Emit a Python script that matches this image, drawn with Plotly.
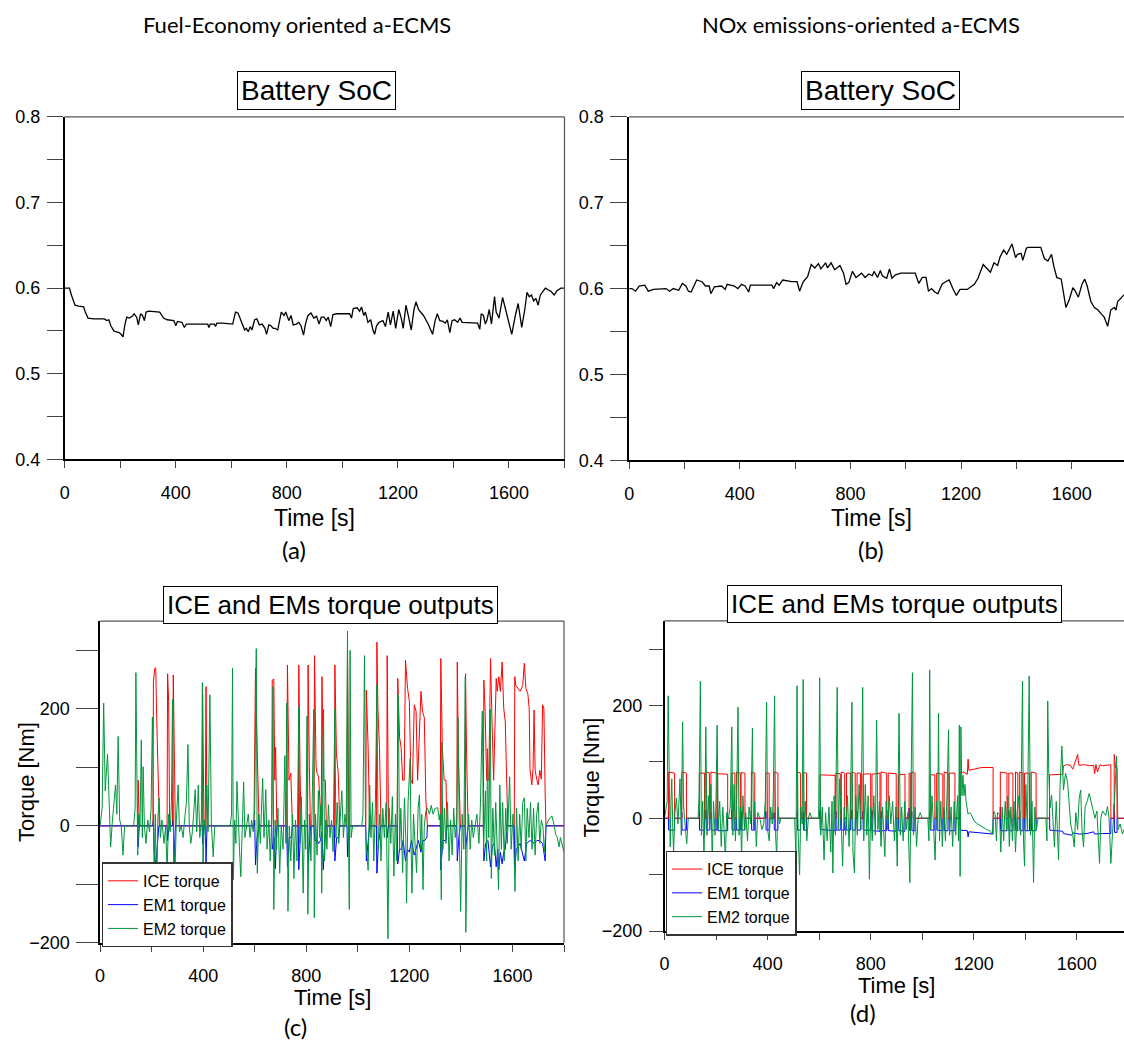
import plotly.graph_objects as go

# ---------------- data ----------------
# Battery SoC, fuel-economy oriented a-ECMS
soc_fe_t = [0, 17, 24, 37, 50, 68, 74, 84, 104, 143, 151, 159, 166, 177, 183, 196, 203, 210, 216, 223,
            232, 243, 250, 259, 265, 273, 280, 287, 293, 303, 342, 349, 356, 369, 393, 400, 406, 422, 431, 438,
            515, 519, 524, 539, 543, 548, 568, 605, 609, 615, 624, 632, 641, 648, 654, 661, 668, 674, 684, 692,
            701, 711, 721, 727, 735, 743, 751, 758, 767, 774, 780, 790, 796, 807, 815, 823, 834, 843, 851, 860,
            867, 876, 887, 897, 907, 916, 924, 934, 942, 949, 958, 966, 980, 1026, 1033, 1039, 1053, 1062, 1069, 1077,
            1083, 1092, 1102, 1110, 1116, 1123, 1132, 1146, 1155, 1165, 1173, 1183, 1192, 1203, 1212, 1219, 1229, 1238, 1248, 1258,
            1265, 1274, 1292, 1309, 1325, 1334, 1342, 1351, 1362, 1371, 1378, 1387, 1395, 1404, 1415, 1424, 1431, 1487, 1495, 1500,
            1508, 1515, 1521, 1529, 1537, 1548, 1554, 1564, 1577, 1588, 1597, 1610, 1623, 1633, 1641, 1646, 1657, 1665, 1673, 1681,
            1689, 1697, 1705, 1713, 1720, 1731, 1741, 1752, 1763, 1773, 1787, 1800]
soc_fe = [0.600, 0.600, 0.592, 0.580, 0.579, 0.578, 0.572, 0.565, 0.564, 0.564, 0.562, 0.563, 0.556, 0.550, 0.549, 0.548, 0.546, 0.543, 0.556, 0.566,
          0.565, 0.567, 0.570, 0.566, 0.557, 0.570, 0.568, 0.562, 0.572, 0.573, 0.572, 0.568, 0.565, 0.563, 0.562, 0.556, 0.561, 0.560, 0.554, 0.558,
          0.558, 0.554, 0.558, 0.558, 0.555, 0.559, 0.559, 0.558, 0.565, 0.572, 0.571, 0.564, 0.556, 0.551, 0.553, 0.549, 0.555, 0.551, 0.563, 0.564,
          0.557, 0.558, 0.553, 0.546, 0.557, 0.556, 0.553, 0.553, 0.551, 0.565, 0.572, 0.568, 0.572, 0.562, 0.568, 0.557, 0.558, 0.560, 0.556, 0.545,
          0.558, 0.568, 0.571, 0.565, 0.567, 0.558, 0.566, 0.566, 0.562, 0.566, 0.555, 0.569, 0.570, 0.570, 0.565, 0.576, 0.577, 0.573, 0.578, 0.568,
          0.572, 0.560, 0.563, 0.551, 0.546, 0.556, 0.560, 0.562, 0.555, 0.572, 0.557, 0.573, 0.553, 0.575, 0.565, 0.553, 0.580, 0.567, 0.551, 0.575,
          0.584, 0.575, 0.568, 0.558, 0.546, 0.562, 0.570, 0.562, 0.561, 0.559, 0.563, 0.548, 0.562, 0.563, 0.560, 0.565, 0.560, 0.559, 0.552, 0.570,
          0.568, 0.558, 0.563, 0.575, 0.558, 0.590, 0.572, 0.565, 0.589, 0.575, 0.562, 0.546, 0.568, 0.582, 0.565, 0.554, 0.575, 0.595, 0.590, 0.592,
          0.585, 0.588, 0.580, 0.592, 0.595, 0.600, 0.598, 0.596, 0.592, 0.597, 0.600, 0.600]

# Battery SoC, NOx emissions oriented a-ECMS
soc_nox_t = [0, 10, 23, 36, 56, 69, 88, 133, 146, 159, 179, 192, 205, 214, 224, 244, 263, 276, 289, 295,
             308, 334, 347, 354, 380, 393, 406, 419, 432, 438, 516, 522, 533, 542, 555, 587, 607, 616, 629, 645,
             658, 671, 684, 693, 710, 717, 730, 743, 762, 775, 784, 794, 807, 820, 840, 853, 866, 879, 885, 898,
             908, 915, 931, 941, 950, 963, 982, 1034, 1047, 1060, 1073, 1082, 1093, 1105, 1116, 1131, 1144, 1157, 1170, 1183,
             1196, 1222, 1248, 1261, 1280, 1293, 1306, 1319, 1332, 1341, 1354, 1365, 1384, 1397, 1404, 1417, 1423, 1436, 1442, 1488,
             1501, 1514, 1527, 1536, 1546, 1562, 1579, 1591, 1604, 1613, 1624, 1637, 1647, 1656, 1669, 1682, 1695, 1708, 1717, 1730,
             1741, 1754, 1760, 1766, 1779, 1790]
soc_nox = [0.600, 0.600, 0.597, 0.603, 0.604, 0.597, 0.599, 0.600, 0.597, 0.600, 0.598, 0.606, 0.603, 0.597, 0.596, 0.610, 0.608, 0.603, 0.603, 0.594,
           0.602, 0.603, 0.599, 0.605, 0.603, 0.600, 0.605, 0.603, 0.596, 0.604, 0.604, 0.600, 0.607, 0.604, 0.610, 0.608, 0.608, 0.597, 0.608, 0.614,
           0.628, 0.624, 0.629, 0.623, 0.630, 0.624, 0.630, 0.622, 0.627, 0.618, 0.605, 0.607, 0.620, 0.613, 0.618, 0.613, 0.617, 0.615, 0.620, 0.613,
           0.621, 0.615, 0.612, 0.623, 0.612, 0.616, 0.618, 0.618, 0.606, 0.613, 0.613, 0.597, 0.600, 0.596, 0.594, 0.605, 0.608, 0.610, 0.600, 0.592,
           0.599, 0.599, 0.605, 0.612, 0.628, 0.624, 0.619, 0.630, 0.627, 0.637, 0.645, 0.640, 0.652, 0.636, 0.640, 0.641, 0.633, 0.647, 0.648, 0.648,
           0.635, 0.632, 0.640, 0.625, 0.613, 0.611, 0.578, 0.587, 0.601, 0.597, 0.590, 0.605, 0.611, 0.603, 0.585, 0.578, 0.575, 0.570, 0.567, 0.556,
           0.575, 0.578, 0.575, 0.585, 0.590, 0.593]

# Torque outputs, fuel-economy oriented a-ECMS
ice_fe_t = [0, 145, 148, 152, 205, 207, 212, 216, 220, 224, 228, 230, 260, 262, 266, 270, 281, 284, 288, 292,
            396, 398, 403, 408, 411, 415, 597, 603, 610, 617, 666, 668, 674, 678, 681, 686, 724, 727, 733, 740,
            744, 746, 770, 771, 776, 780, 805, 807, 812, 816, 830, 832, 838, 842, 848, 858, 861, 866, 870, 874,
            878, 909, 911, 917, 924, 930, 958, 960, 965, 1031, 1033, 1040, 1046, 1072, 1074, 1078, 1084, 1090, 1112, 1114,
            1119, 1153, 1155, 1162, 1168, 1174, 1180, 1185, 1193, 1200, 1206, 1212, 1219, 1226, 1232, 1245, 1251, 1258, 1264, 1270,
            1320, 1322, 1328, 1335, 1342, 1346, 1384, 1386, 1390, 1398, 1416, 1418, 1422, 1428, 1487, 1489, 1494, 1500, 1508, 1515,
            1520, 1527, 1537, 1541, 1547, 1553, 1560, 1566, 1572, 1578, 1582, 1607, 1609, 1613, 1620, 1630, 1640, 1646, 1652, 1660,
            1665, 1668, 1675, 1680, 1684, 1688, 1694, 1700, 1706, 1712, 1717, 1722, 1727, 1730, 1800]
ice_fe = [0, 0, 78, 0, 0, 246, 269, 270, 179, 78, 40, 0, 0, 260, 213, 0, 0, 258, 123, 0,
          0, 224, 0, 0, 238, 0, 0, 269, 123, 0, 0, 249, 251, 78, 134, 0, 0, 275, 78, 90,
          34, 0, 0, 275, 90, 0, 0, 275, 101, 0, 0, 291, 101, 90, 84, 0, 255, 78, 78, 78,
          0, 0, 275, 123, 90, 0, 0, 300, 0, 0, 232, 134, 0, 0, 314, 200, 134, 0, 0, 291,
          0, 0, 252, 151, 134, 78, 78, 283, 235, 213, 78, 72, 207, 196, 78, 230, 196, 185, 45, 0,
          0, 286, 134, 78, 78, 0, 0, 280, 123, 0, 0, 260, 123, 0, 0, 249, 196, 78, 78, 286,
          190, 78, 252, 230, 255, 230, 280, 202, 179, 60, 0, 0, 255, 240, 235, 230, 240, 278, 235, 225,
          200, 98, 70, 98, 198, 95, 80, 70, 95, 80, 207, 200, 53, 0, 0]

em1_fe_t = [0, 145, 146, 148, 152, 205, 207, 210, 216, 222, 228, 260, 262, 268, 282, 284, 287, 292, 396, 398,
            402, 409, 411, 415, 597, 600, 603, 609, 617, 666, 668, 676, 680, 686, 724, 727, 734, 742, 746, 769,
            771, 777, 781, 805, 807, 813, 817, 830, 833, 842, 848, 855, 861, 866, 872, 878, 909, 911, 918, 925,
            930, 958, 960, 965, 1031, 1033, 1040, 1046, 1072, 1074, 1080, 1090, 1112, 1114, 1119, 1153, 1155, 1162, 1170, 1176,
            1185, 1193, 1200, 1208, 1219, 1226, 1235, 1245, 1252, 1260, 1268, 1270, 1320, 1322, 1330, 1342, 1346, 1384, 1386, 1392,
            1398, 1416, 1418, 1428, 1487, 1489, 1496, 1505, 1515, 1522, 1530, 1537, 1543, 1547, 1553, 1560, 1566, 1572, 1580, 1607,
            1609, 1615, 1630, 1646, 1655, 1668, 1684, 1695, 1705, 1717, 1727, 1730, 1800]
em1_fe = [0, 0, 10, -36, 0, 0, 10, -45, -70, -30, 0, 0, -25, 0, 0, 10, -67, 0, 0, -30,
          0, 0, -62, 0, 0, 10, -67, -20, 0, 0, -40, -20, -73, 0, 0, -70, -20, -20, 0, 0,
          -75, -20, 0, 0, -64, -25, 0, 0, -25, -25, -30, -25, -10, -75, -25, 0, 0, -60, -20, -20,
          0, 0, -53, 0, 0, -60, -20, 0, 0, -81, -30, 0, 0, -20, 0, 0, -65, -40, -40, -25,
          -60, -40, -45, -25, -50, -40, -25, -45, -25, -25, -20, 0, 0, -75, -25, -25, 0, 0, -60, -20,
          0, 0, -40, 0, 0, -60, -30, -25, -70, -35, -30, -70, -40, -75, -45, -65, -45, -40, 0, 0,
          -70, -40, -30, -60, -30, -25, -30, -25, -25, -30, -60, 0, 0]

em2_fe_t = [0, 8, 14, 20, 29, 35, 41, 48, 55, 60, 65, 70, 76, 82, 89, 95, 130, 136, 139, 143,
            146, 150, 155, 160, 164, 167, 172, 178, 185, 192, 198, 203, 207, 210, 214, 220, 224, 229, 234, 240,
            248, 255, 260, 266, 272, 277, 281, 285, 291, 296, 303, 308, 315, 322, 330, 335, 341, 346, 352, 358,
            363, 369, 375, 381, 387, 393, 397, 399, 404, 409, 414, 419, 426, 432, 439, 445, 505, 510, 514, 517,
            522, 527, 531, 536, 541, 546, 551, 557, 562, 568, 575, 582, 588, 594, 600, 606, 610, 616, 622, 627,
            631, 636, 643, 648, 655, 660, 667, 671, 674, 679, 684, 690, 697, 703, 710, 717, 721, 724, 729, 734,
            740, 747, 752, 758, 764, 771, 775, 781, 788, 793, 798, 803, 806, 812, 818, 823, 829, 831, 836, 842,
            847, 852, 857, 860, 864, 867, 871, 876, 880, 886, 892, 898, 904, 911, 915, 920, 926, 932, 938, 944,
            950, 955, 960, 963, 967, 970, 974, 980, 1015, 1020, 1026, 1030, 1035, 1040, 1046, 1051, 1057, 1062, 1068, 1074,
            1079, 1085, 1090, 1097, 1103, 1110, 1117, 1122, 1128, 1134, 1140, 1146, 1151, 1157, 1162, 1167, 1174, 1181, 1186, 1189,
            1195, 1203, 1207, 1210, 1216, 1222, 1228, 1234, 1239, 1244, 1248, 1253, 1258, 1264, 1270, 1278, 1285, 1292, 1300, 1310,
            1316, 1320, 1324, 1326, 1330, 1336, 1342, 1348, 1354, 1360, 1366, 1372, 1378, 1384, 1389, 1394, 1399, 1405, 1411, 1417,
            1419, 1424, 1430, 1436, 1442, 1448, 1455, 1462, 1470, 1476, 1483, 1488, 1495, 1500, 1503, 1508, 1514, 1518, 1524, 1530,
            1535, 1540, 1546, 1551, 1557, 1562, 1568, 1574, 1580, 1589, 1595, 1602, 1610, 1616, 1622, 1628, 1634, 1640, 1646, 1652,
            1657, 1664, 1670, 1676, 1682, 1688, 1694, 1700, 1706, 1712, 1718, 1724, 1730, 1740, 1748, 1753, 1760, 1768, 1774, 1781,
            1786, 1792, 1800]
em2_fe = [0, 30, 210, 60, 123, 20, -36, 10, 40, 70, 20, 153, 10, 0, -50, 0, 0, 30, 262, 10,
          -50, 20, 0, 147, -20, 101, 0, -30, 10, -10, 30, 186, -20, -98, 20, -118, 10, 48, -20, 10,
          -30, 0, -81, 20, -10, 40, 216, -20, -76, 10, 70, -10, 0, -20, 20, 40, 139, 0, -30, -10,
          20, 62, -10, 70, -20, 10, 245, -87, 10, -20, 70, -10, 224, 0, -53, 0, 0, 20, 270, -92,
          10, -30, 76, 0, -40, -87, 10, 75, -20, 0, 20, -20, 10, -10, 30, 303, -81, 20, -30, 40,
          81, -20, 62, -40, 10, -60, 20, 238, -143, 10, -40, 30, -81, 0, -40, 120, -30, 210, -146, 0,
          -60, 20, -90, 10, -60, 204, -30, 50, -115, 10, -40, 188, -151, 20, -60, 40, 199, -157, 20, -50,
          60, -20, 36, -115, 20, 199, -60, 10, -40, 36, -20, 10, -44, 200, -20, 40, -30, 10, 60, -20,
          20, 0, 333, 20, -143, 300, -20, 0, 0, 20, 291, -10, -50, -76, 70, -20, 40, -60, 30, 241,
          -40, 20, -60, 30, -20, 40, -193, 30, -30, 50, -86, 20, -60, 224, -40, 30, -80, 48, -20, -132,
          40, 115, -40, -115, 20, -40, -80, 30, 53, -40, 20, -109, 0, 25, 30, 20, 35, 20, 30, 31,
          10, 20, -126, 143, -40, 30, -30, 40, -60, 10, -50, 30, -20, 10, 185, -20, -146, 20, -40, 255,
          -182, -30, 20, -40, 10, -20, 0, 20, -30, 40, 196, -40, 60, -60, 132, -20, 199, -90, 30, -50,
          40, -40, -109, 70, -40, 40, -60, 30, -30, 84, -40, 20, -112, 30, -60, 20, -40, 40, 48, -60,
          30, -20, 40, -40, 30, -50, 20, 40, -30, 10, 0, -45, 0, 10, 15, 17, 5, -15, -20, -36,
          -20, -30, -45]

# Torque outputs, NOx emissions oriented a-ECMS
ice_nox_t = [0, 15, 15, 39, 39, 67, 67, 85, 85, 135, 135, 155, 155, 161, 161, 174, 174, 180, 180, 203,
             203, 206, 206, 245, 245, 261, 261, 273, 273, 279, 279, 294, 294, 297, 297, 312, 312, 337, 337, 350,
             350, 393, 393, 406, 406, 425, 425, 440, 440, 515, 515, 528, 528, 538, 538, 551, 551, 603, 603, 662,
             662, 665, 665, 682, 682, 686, 686, 699, 699, 706, 706, 721, 721, 727, 727, 740, 740, 747, 747, 760,
             760, 770, 770, 800, 800, 805, 805, 836, 836, 840, 840, 862, 862, 868, 868, 899, 899, 908, 908, 933,
             933, 949, 949, 955, 955, 959, 959, 972, 972, 1030, 1030, 1049, 1049, 1056, 1056, 1080, 1080, 1085, 1085, 1100,
             1100, 1105, 1105, 1127, 1127, 1146, 1146, 1160, 1175, 1178, 1181, 1190, 1210, 1230, 1260, 1275, 1275, 1303, 1303, 1329,
             1329, 1336, 1336, 1352, 1352, 1362, 1362, 1371, 1371, 1378, 1378, 1391, 1391, 1397, 1397, 1416, 1416, 1423, 1423, 1442,
             1442, 1494, 1494, 1545, 1548, 1560, 1575, 1584, 1590, 1603, 1608, 1630, 1648, 1665, 1669, 1674, 1680, 1690, 1700, 1710,
             1722, 1732, 1732, 1745, 1745, 1750, 1756, 1756, 1800]
ice_nox = [0, 0, 82, 80, 0, 0, 82, 80, 0, 0, 80, 80, 0, 0, 82, 80, 0, 0, 82, 80,
           0, 0, 79, 78, 0, 0, 80, 80, 0, 0, 82, 80, 0, 0, 81, 80, 0, 0, 82, 80,
           0, 0, 80, 80, 0, 0, 82, 80, 0, 0, 82, 80, 0, 0, 81, 80, 0, 0, 77, 76,
           0, 0, 80, 79, 0, 0, 82, 80, 0, 0, 80, 80, 0, 0, 82, 80, 0, 0, 80, 80,
           0, 0, 78, 79, 0, 0, 78, 80, 0, 0, 82, 80, 0, 0, 80, 79, 0, 0, 77, 78,
           0, 0, 80, 80, 0, 0, 82, 80, 0, 0, 77, 77, 0, 0, 80, 78, 0, 0, 82, 80,
           0, 0, 80, 80, 0, 0, 80, 82, 78, 105, 85, 86, 88, 90, 90, 90, 0, 0, 82, 80,
           0, 0, 80, 80, 0, 0, 82, 80, 0, 0, 82, 80, 0, 0, 80, 80, 0, 0, 82, 80,
           0, 0, 77, 78, 93, 95, 94, 87, 95, 113, 94, 95, 93, 94, 79, 95, 82, 95, 93, 94,
           95, 95, 0, 0, 113, 90, 90, 0, 0]

em1_nox_t = [0, 15, 15, 16, 39, 39, 67, 67, 68, 85, 85, 135, 135, 136, 155, 155, 161, 161, 162, 174,
             174, 180, 180, 181, 203, 203, 206, 206, 207, 245, 245, 261, 261, 262, 273, 273, 279, 279, 280, 294,
             294, 297, 297, 298, 312, 312, 337, 337, 338, 350, 350, 393, 393, 394, 406, 406, 425, 425, 426, 440,
             440, 515, 515, 516, 528, 528, 538, 538, 539, 551, 551, 603, 603, 604, 662, 662, 665, 665, 666, 682,
             682, 686, 686, 687, 699, 699, 706, 706, 707, 721, 721, 727, 727, 728, 740, 740, 747, 747, 748, 760,
             760, 770, 770, 771, 800, 800, 805, 805, 806, 836, 836, 840, 840, 841, 862, 862, 868, 868, 869, 899,
             899, 908, 908, 909, 933, 933, 949, 949, 950, 955, 955, 959, 959, 960, 972, 972, 1030, 1030, 1031, 1049,
             1049, 1056, 1056, 1057, 1080, 1080, 1085, 1085, 1086, 1100, 1100, 1105, 1105, 1106, 1127, 1127, 1146, 1146, 1147, 1175,
             1178, 1181, 1200, 1230, 1260, 1275, 1275, 1303, 1303, 1304, 1329, 1329, 1336, 1336, 1337, 1352, 1352, 1362, 1362, 1363,
             1371, 1371, 1378, 1378, 1379, 1391, 1391, 1397, 1397, 1398, 1416, 1416, 1423, 1423, 1424, 1442, 1442, 1494, 1494, 1495,
             1545, 1548, 1580, 1584, 1610, 1640, 1665, 1669, 1700, 1732, 1732, 1745, 1745, 1746, 1756, 1756, 1800]
em1_nox = [0, 0, 12, -21, -21, 0, 0, 10, -21, -21, 0, 0, 12, -21, -21, 0, 0, 15, -21, -21,
           0, 0, 10, -21, -21, 0, 0, 12, -22, -22, 0, 0, 15, -21, -21, 0, 0, 35, -21, -21,
           0, 0, 12, -21, -21, 0, 0, 12, -21, -21, 0, 0, 12, -21, -21, 0, 0, 10, -21, -21,
           0, 0, 12, -21, -21, 0, 0, 10, -21, -21, 0, 0, 14, -20, -22, 0, 0, 12, -21, -21,
           0, 0, 14, -21, -21, 0, 0, 12, -21, -21, 0, 0, 14, -21, -21, 0, 0, 12, -21, -21,
           0, 0, 12, -21, -21, 0, 0, 14, -22, -23, 0, 0, 12, -22, -22, 0, 0, 14, -22, -23,
           0, 0, 12, -22, -23, 0, 0, 18, -22, -22, 0, 0, 12, -22, -22, 0, 0, 12, -21, -21,
           0, 0, 20, -21, -22, 0, 0, 14, -22, -22, 0, 0, 14, -22, -22, 0, 0, 12, -21, -22,
           -33, -24, -25, -26, -27, -28, 0, 0, 20, -22, -22, 0, 0, 14, -22, -22, 0, 0, 15, -22,
           -22, 0, 0, 14, -22, -22, 0, 0, 12, -22, -22, 0, 0, 12, -22, -22, 0, 0, 12, -21,
           -23, -27, -30, -26, -28, -27, -24, -28, -27, -27, 0, 0, 25, -25, -25, 0, 0]

em2_nox_t = [0, 10, 14, 18, 22, 25, 28, 32, 35, 40, 46, 52, 57, 60, 65, 70, 74, 80, 86, 92,
             130, 134, 139, 143, 148, 153, 157, 160, 165, 170, 175, 180, 185, 190, 196, 200, 204, 208, 214, 220,
             226, 231, 236, 241, 248, 255, 261, 265, 270, 275, 280, 285, 289, 294, 299, 304, 310, 315, 322, 328,
             335, 341, 345, 350, 356, 362, 370, 378, 385, 391, 396, 400, 406, 412, 418, 422, 427, 431, 435, 440,
             446, 452, 505, 510, 514, 518, 524, 529, 534, 538, 542, 546, 552, 558, 564, 572, 598, 602, 606, 612,
             619, 625, 631, 638, 645, 650, 653, 658, 663, 670, 674, 680, 686, 691, 697, 703, 710, 716, 722, 727,
             731, 737, 742, 748, 755, 762, 769, 773, 779, 785, 790, 795, 800, 806, 812, 818, 823, 828, 834, 840,
             846, 855, 860, 866, 872, 878, 885, 892, 898, 903, 906, 910, 915, 920, 926, 932, 938, 944, 952, 957,
             962, 966, 972, 978, 984, 992, 1000, 1022, 1026, 1029, 1033, 1038, 1044, 1050, 1055, 1060, 1063, 1067, 1072, 1078,
             1084, 1090, 1096, 1102, 1106, 1112, 1118, 1124, 1130, 1137, 1141, 1144, 1147, 1150, 1154, 1158, 1162, 1166, 1170, 1178,
             1184, 1190, 1196, 1205, 1215, 1225, 1238, 1250, 1262, 1272, 1277, 1283, 1288, 1292, 1300, 1305, 1310, 1316, 1322, 1327,
             1332, 1338, 1344, 1350, 1356, 1362, 1368, 1375, 1382, 1389, 1393, 1397, 1402, 1408, 1415, 1420, 1426, 1432, 1437, 1443,
             1450, 1480, 1484, 1487, 1491, 1496, 1502, 1507, 1513, 1520, 1529, 1535, 1542, 1548, 1556, 1564, 1570, 1576, 1584, 1590,
             1596, 1603, 1609, 1615, 1620, 1626, 1632, 1640, 1648, 1655, 1662, 1670, 1678, 1688, 1693, 1700, 1712, 1719, 1725, 1732,
             1738, 1745, 1754, 1760, 1768, 1777, 1783, 1800]
em2_nox = [0, 30, 217, 105, -51, 30, 70, -20, -62, 10, 36, -10, 40, 70, -30, 171, 20, -20, -45, 0,
           0, 40, 243, -30, 30, -68, 20, 162, -30, 40, -20, 60, -80, 30, -30, 40, 165, -20, 30, -50,
           20, -20, -74, 10, 0, 20, 162, -30, 60, -40, 30, 197, -30, 20, -68, 40, -20, 10, -40, 20,
           -10, 160, -20, 30, -50, 10, 0, -20, -10, 30, 206, -20, -40, 20, -10, 40, 217, -30, -68, 20,
           -10, 0, 0, -74, 235, -20, -100, 20, -10, 246, -20, 30, -40, 0, 10, 0, 0, 249, -30, 20,
           -74, 10, -40, 20, -60, 30, -97, 40, -30, 232, -20, 70, -40, -85, 20, -30, 40, -50, 30, 206,
           -60, -97, 40, -30, 60, -20, 232, -40, 60, -30, 40, -108, 20, -40, 40, -30, 174, -20, 30, -50,
           20, -68, 30, -20, 40, -10, 30, -40, 20, -85, 40, 186, -30, 20, -40, 30, -20, 10, -114, 40,
           258, -30, 20, -50, 0, 10, 0, 0, -40, 263, -20, 40, -30, -74, 30, -20, 186, -40, 30, -50,
           20, -40, 40, 157, -30, 20, -50, 30, -30, 40, -40, 165, -103, 162, 40, 76, 40, 60, 30, 7,
           10, 7, 0, -7, -10, -13, -16, -20, -22, -28, 13, 7, -40, 10, 7, -60, 20, -40, 30, -20,
           40, -50, 20, -40, 30, -60, 10, 40, -30, 243, -40, -85, 60, -20, 252, -30, 30, -114, 20, -20,
           0, 0, -40, 208, 82, 18, 41, -16, -51, 30, -74, 60, 128, 50, 80, 64, 30, -10, -28, -51,
           10, -20, 36, 50, -20, -51, 20, 30, 44, 30, 13, 0, 13, -80, 0, 13, 5, 21, 0, -80,
           -30, 20, 110, -20, -10, -28, -20, -10]

# ---------------- styling ----------------
W, H = 1124, 1049
AX_FONT = "Liberation Sans, Arial, sans-serif"
HEAD_FONT = "Lato, Carlito, Calibri, sans-serif"
C_ICE = "#ff0000"
C_EM1 = "#0000ff"
C_EM2 = "#00963c"


def px(x):
    return x / W


def py(y):
    return 1 - y / H


fig = go.Figure()

# SoC traces
fig.add_trace(go.Scatter(x=soc_fe_t, y=soc_fe, mode="lines", line=dict(color="black", width=1.3),
                         showlegend=False, xaxis="x", yaxis="y"))
fig.add_trace(go.Scatter(x=soc_nox_t, y=soc_nox, mode="lines", line=dict(color="black", width=1.3),
                         showlegend=False, xaxis="x2", yaxis="y2"))

# Torque traces, fuel-economy case
fig.add_trace(go.Scatter(x=ice_fe_t, y=ice_fe, mode="lines", name="ICE torque",
                         line=dict(color=C_ICE, width=1), xaxis="x3", yaxis="y3", legend="legend"))
fig.add_trace(go.Scatter(x=em1_fe_t, y=em1_fe, mode="lines", name="EM1 torque",
                         line=dict(color=C_EM1, width=1), xaxis="x3", yaxis="y3", legend="legend"))
fig.add_trace(go.Scatter(x=em2_fe_t, y=em2_fe, mode="lines", name="EM2 torque",
                         line=dict(color=C_EM2, width=1), xaxis="x3", yaxis="y3", legend="legend"))

# Torque traces, NOx case (EM1 drawn beneath ICE)
fig.add_trace(go.Scatter(x=em1_nox_t, y=em1_nox, mode="lines", name="EM1 torque", legendrank=2,
                         line=dict(color=C_EM1, width=1), xaxis="x4", yaxis="y4", legend="legend2"))
fig.add_trace(go.Scatter(x=ice_nox_t, y=ice_nox, mode="lines", name="ICE torque", legendrank=1,
                         line=dict(color=C_ICE, width=1), xaxis="x4", yaxis="y4", legend="legend2"))
fig.add_trace(go.Scatter(x=em2_nox_t, y=em2_nox, mode="lines", name="EM2 torque", legendrank=3,
                         line=dict(color=C_EM2, width=1), xaxis="x4", yaxis="y4", legend="legend2"))

TICK_FONT = dict(family=AX_FONT, size=18, color="black")


def xaxis_cfg(x0, x1, xmax):
    return dict(domain=[px(x0), px(x1)], range=[0, xmax], tick0=0, dtick=400,
                ticks="outside", ticklen=7, tickwidth=1, tickcolor="#444",
                minor=dict(tick0=0, dtick=200, ticks="outside", ticklen=7, tickwidth=1, tickcolor="#444"),
                showline=True, linecolor="black", linewidth=1.5, showgrid=False, zeroline=False,
                tickfont=TICK_FONT, ticklabelstandoff=9, fixedrange=True)


def yaxis_cfg(y_top, y_bot, rng, dtick, mdtick, tick0, ticklen, fmt=None):
    d = dict(domain=[py(y_bot), py(y_top)], range=rng, tick0=tick0, dtick=dtick,
             ticks="outside", ticklen=ticklen, tickwidth=1, tickcolor="#444",
             minor=dict(tick0=tick0, dtick=mdtick, ticks="outside", ticklen=ticklen, tickwidth=1, tickcolor="#444"),
             showline=True, linecolor="black", linewidth=1.5, showgrid=False, zeroline=False,
             tickfont=TICK_FONT, ticklabelstandoff=3, fixedrange=True)
    if fmt:
        d["tickformat"] = fmt
    return d


LEG_FONT = dict(family=AX_FONT, size=16, color="black")

layout = dict(
    width=W, height=H, margin=dict(l=0, r=0, t=0, b=0),
    paper_bgcolor="white", plot_bgcolor="white",
    xaxis=dict(xaxis_cfg(60, 562, 1800), anchor="y"),
    yaxis=dict(yaxis_cfg(109, 458, [0.4, 0.8], 0.1, 0.05, 0.4, 16, ".1f"), anchor="x"),
    xaxis2=dict(xaxis_cfg(627, 1124, 1789), anchor="y2"),
    yaxis2=dict(yaxis_cfg(109, 459, [0.4, 0.8], 0.1, 0.05, 0.4, 17, ".1f"), anchor="x2"),
    xaxis3=dict(xaxis_cfg(95.5, 561.5, 1800), anchor="y3"),
    yaxis3=dict(yaxis_cfg(623, 951, [-200, 350], 200, 100, -200, 22), anchor="x3"),
    xaxis4=dict(xaxis_cfg(662.5, 1124, 1783), anchor="y4"),
    yaxis4=dict(yaxis_cfg(622.7, 939, [-200, 350], 200, 100, -200, 14), anchor="x4"),
    legend=dict(x=px(97), y=py(869), xanchor="left", yanchor="top", bgcolor="white",
                bordercolor="#333", borderwidth=1.5, font=LEG_FONT, itemwidth=30, tracegroupgap=0),
    legend2=dict(x=px(663.5), y=py(857), xanchor="left", yanchor="top", bgcolor="white",
                 bordercolor="#333", borderwidth=1.5, font=LEG_FONT, itemwidth=30, tracegroupgap=0),
    showlegend=True,
)
fig.update_layout(**layout)

# top / right frame lines of each panel
frames = [("x", "y", True), ("x2", "y2", False), ("x3", "y3", True), ("x4", "y4", False)]
for xa, ya, right in frames:
    fig.add_shape(type="line", xref=f"{xa} domain", yref=f"{ya} domain", x0=0, x1=1, y0=1, y1=1,
                  line=dict(color="#555", width=1.2), layer="above")
    if right:
        fig.add_shape(type="line", xref=f"{xa} domain", yref=f"{ya} domain", x0=1, x1=1, y0=0, y1=1,
                      line=dict(color="#555", width=1.2), layer="above")

annotations = []


def text(x, y, s, size, family=AX_FONT, **kw):
    annotations.append(dict(x=px(x), y=py(y), xref="paper", yref="paper", text=s, showarrow=False,
                            xanchor="center", yanchor="middle",
                            font=dict(family=family, size=size, color="black"), **kw))


# column headings
text(293, 15, "Fuel-Economy oriented a-ECMS", 22, HEAD_FONT)
text(860, 15, "NOx emissions-oriented a-ECMS", 22, HEAD_FONT)

# boxed panel titles
box = dict(bordercolor="black", borderwidth=1, borderpad=3, bgcolor="white")
text(313, 82, "Battery SoC", 28, **box)
text(879, 82, "Battery SoC", 28, **box)
text(327, 607, "ICE and EMs torque outputs", 26, **box)
text(893.5, 606, "ICE and EMs torque outputs", 26, **box)

# axis titles
text(311, 518, "Time [s]", 23)
text(870, 518, "Time [s]", 23)
text(328.5, 1007, "Time [s]", 22)
text(895, 994, "Time [s]", 22)
text(22, 787, "Torque [Nm]", 22, textangle=-90)
text(589, 782, "Torque [Nm]", 22, textangle=-90)

# panel letters
text(290, 550, "(a)", 24, HEAD_FONT)
text(870, 550, "(b)", 24, HEAD_FONT)
text(292, 1036, "(c)", 24, HEAD_FONT)
text(862, 1022, "(d)", 24, HEAD_FONT)

fig.update_layout(annotations=annotations)

fig.write_html("out.html")
